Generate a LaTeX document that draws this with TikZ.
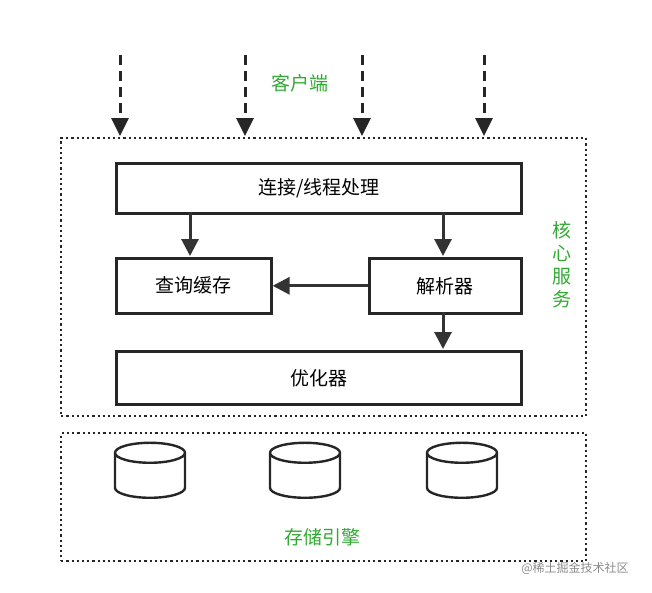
\documentclass[tikz,border=0pt]{standalone}
\usepackage{fontspec}
\setmainfont{Noto Sans CJK SC}
\usetikzlibrary{shapes.geometric,arrows.meta}
\definecolor{grn}{RGB}{50,170,50}
\begin{document}
\begin{tikzpicture}[x=1pt,y=-1pt,
 box/.style={draw=black!85,line width=2.6pt,minimum height=50pt,font=\fontsize{19}{19}\selectfont},
 arr/.style={line width=3pt,draw=black!80,-{Triangle[length=17pt,width=17pt]}},
 darr/.style={line width=3pt,draw=black!85,dash pattern=on 10pt off 6pt,-{Triangle[length=18pt,width=17pt]}},
 zone/.style={draw=black!85,line width=2.2pt,dash pattern=on 2.2pt off 3pt},
 gl/.style={text=grn,font=\fontsize{19}{19}\selectfont},
 cyl/.style={cylinder,shape border rotate=90,draw=black!85,line width=2.4pt,minimum width=70pt,minimum height=55pt,aspect=3}]
\useasboundingbox (0,0) rectangle (652,592);
\node[zone,minimum width=525pt,minimum height=278pt,anchor=north west] (core) at (60,137) {};
\node[zone,minimum width=525pt,minimum height=128pt,anchor=north west] (store) at (60,432) {};
\node[box,minimum width=405pt,anchor=north west] (conn) at (115,162) {连接/线程处理};
\node[box,minimum width=155pt,minimum height=55pt,anchor=north west] (cache) at (115,257) {查询缓存};
\node[box,minimum width=152pt,minimum height=55pt,anchor=north west] (parse) at (368,257) {解析器};
\node[box,minimum width=405pt,minimum height=53pt,anchor=north west] (opt) at (115,350) {优化器};
\coordinate (c1) at (190,212); \coordinate (c1e) at (190,256);
\coordinate (c2) at (443,212); \coordinate (c2e) at (443,256);
\coordinate (c3) at (443,312); \coordinate (c3e) at (443,349);
\draw[arr] (c1) -- (c1e);
\draw[arr] (c2) -- (c2e);
\draw[arr] (parse.west) -- (cache.east);
\draw[arr] (c3) -- (c3e);
\foreach \x/\n in {120/a,245/b,362/c,484/d}{
 \coordinate (s\n) at (\x,55); \coordinate (e\n) at (\x,136);
 \draw[darr] (s\n) -- (e\n);}
\node[gl] (client) at (300,83) {客户端};
\node[gl,align=center,font=\fontsize{19}{23}\selectfont] (svc) at (562,265) {核\\心\\服\\务};
\node[cyl] (db1) at (150,478) {};
\node[cyl] (db2) at (305,478) {};
\node[cyl] (db3) at (462,478) {};
\node[gl] (eng) at (322,537) {存储引擎};
\node[text=black!45,font=\fontsize{12}{12}\selectfont] (wm) at (575,568) {@稀土掘金技术社区};
\end{tikzpicture}
\end{document}
